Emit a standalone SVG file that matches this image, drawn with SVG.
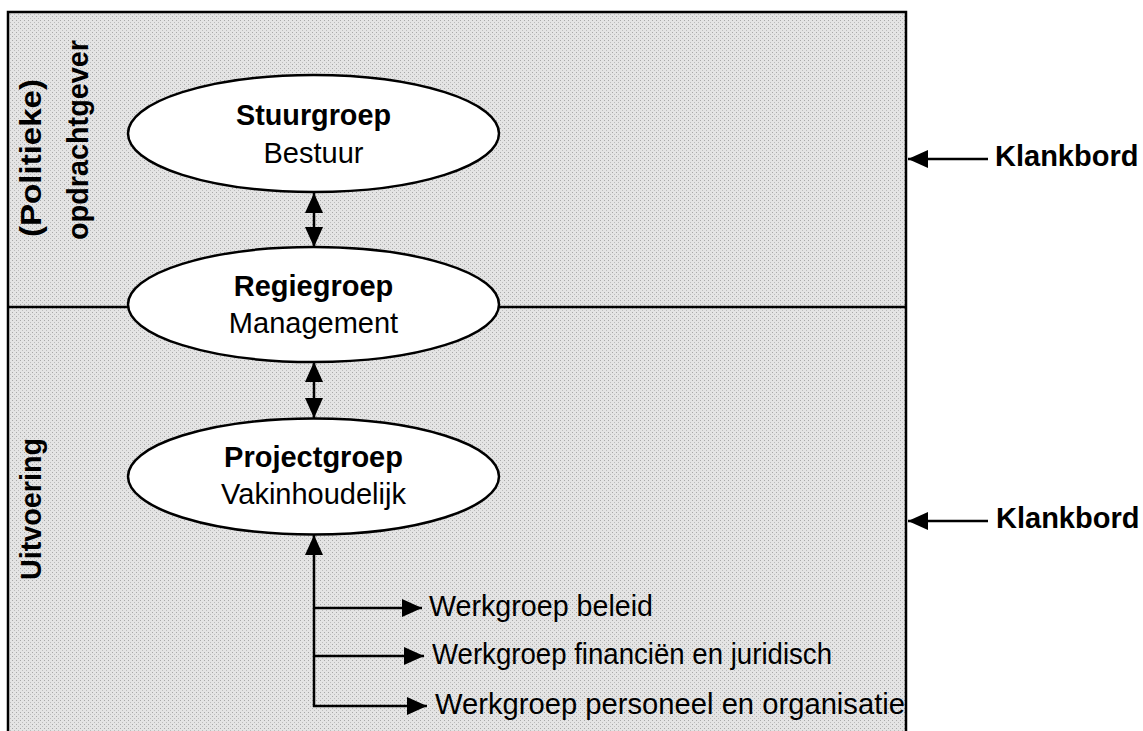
<svg xmlns="http://www.w3.org/2000/svg" width="1143" height="731" viewBox="0 0 1143 731">
<style>
.t{font-family:"Liberation Sans",Arial,sans-serif;font-size:29px;fill:#000}
.w{font-size:30px}
.b{font-weight:bold}
.node ellipse{fill:#fff;stroke:#000;stroke-width:2.5}
.conn line{stroke:#000;stroke-width:2.5}
</style>
<defs>
<marker id="ah" viewBox="0 0 20 18" refX="20" refY="9" markerWidth="21" markerHeight="18" markerUnits="userSpaceOnUse" orient="auto-start-reverse">
<path d="M0,0 L20,9 L0,18 z" fill="#000"/>
</marker>
<pattern id="dots" width="4" height="4" patternUnits="userSpaceOnUse">
<rect width="4" height="4" fill="#e4e4e4"/>
<rect x="0" y="0" width="1" height="1" fill="#a8a8a8"/>
<rect x="2" y="2" width="1" height="1" fill="#bcbcbc"/>
</pattern>
</defs>
<rect width="1143" height="731" fill="#fff"/>
<g id="frame">
<rect x="8" y="12" width="898" height="740" fill="url(#dots)" stroke="#000" stroke-width="2.5"/>
<line x1="8" y1="307" x2="906" y2="307" stroke="#000" stroke-width="2.5"/>
</g>
<g id="lane-labels" class="t b">
<text transform="translate(41,237) rotate(-90)" textLength="158" lengthAdjust="spacingAndGlyphs">(Politieke)</text>
<text transform="translate(88,240) rotate(-90)" textLength="200" lengthAdjust="spacingAndGlyphs">opdrachtgever</text>
<text transform="translate(41,580) rotate(-90)" textLength="142" lengthAdjust="spacingAndGlyphs">Uitvoering</text>
</g>
<g class="conn" id="connectors">
<line x1="314" y1="193" x2="314" y2="247" marker-start="url(#ah)" marker-end="url(#ah)"/>
<line x1="314" y1="362" x2="314" y2="418" marker-start="url(#ah)" marker-end="url(#ah)"/>
<line x1="314" y1="707" x2="314" y2="535" marker-end="url(#ah)"/>
<line x1="313" y1="608" x2="422" y2="608" marker-end="url(#ah)"/>
<line x1="313" y1="656" x2="424" y2="656" marker-end="url(#ah)"/>
<line x1="313" y1="706" x2="427" y2="706" marker-end="url(#ah)"/>
<line x1="988" y1="159" x2="908" y2="159" marker-end="url(#ah)"/>
<line x1="988" y1="521" x2="908" y2="521" marker-end="url(#ah)"/>
</g>
<g id="stuurgroep" class="node">
<ellipse cx="313.5" cy="133.5" rx="185.5" ry="58.5"/>
<text class="t b" x="313.5" y="125" text-anchor="middle" textLength="155" lengthAdjust="spacingAndGlyphs">Stuurgroep</text>
<text class="t" x="313.5" y="163" text-anchor="middle">Bestuur</text>
</g>
<g id="regiegroep" class="node">
<ellipse cx="313.5" cy="304.5" rx="185.5" ry="57.5"/>
<text class="t b" x="313.5" y="296" text-anchor="middle">Regiegroep</text>
<text class="t" x="313.5" y="333" text-anchor="middle">Management</text>
</g>
<g id="projectgroep" class="node">
<ellipse cx="313.5" cy="476.5" rx="185.5" ry="58"/>
<text class="t b" x="313.5" y="467" text-anchor="middle">Projectgroep</text>
<text class="t" x="313.5" y="504" text-anchor="middle">Vakinhoudelijk</text>
</g>
<g id="werkgroep-beleid">
<text class="t w" x="429" y="616" textLength="224" lengthAdjust="spacingAndGlyphs">Werkgroep beleid</text>
</g>
<g id="werkgroep-financien">
<text class="t w" x="432" y="664" textLength="400" lengthAdjust="spacingAndGlyphs">Werkgroep financiën en juridisch</text>
</g>
<g id="werkgroep-personeel">
<text class="t w" x="435" y="714" textLength="470" lengthAdjust="spacingAndGlyphs">Werkgroep personeel en organisatie</text>
</g>
<g id="klankbord-1">
<text class="t b" x="995" y="166">Klankbord</text>
</g>
<g id="klankbord-2">
<text class="t b" x="996" y="528">Klankbord</text>
</g>
</svg>
